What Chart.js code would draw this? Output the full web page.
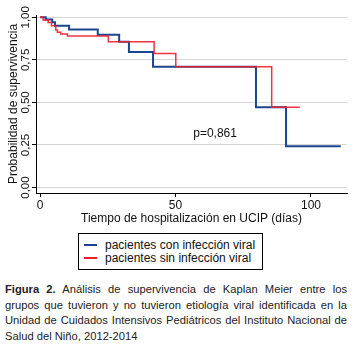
<!DOCTYPE html>
<html>
<head>
<meta charset="utf-8">
<script src="https://cdn.jsdelivr.net/npm/chart.js@4"></script>
<style>
  body { margin: 0; background: #fff; font-family: "Liberation Sans", Arial, sans-serif; }
  #wrap { position: relative; width: 356px; height: 348px; }
  #chart { position: absolute; left: 0; top: 0; }
  #legend { position: absolute; left: 78px; top: 233px; width: 183px; height: 35px;
            border: 1px solid #000; font-size: 12px; color: #111; }
  #legend div { position: absolute; left: 0; height: 13px; line-height: 13px; white-space: nowrap; }
  #legend span.sw { position: absolute; left: 5px; top: 5px; width: 13px; height: 2px; }
  #legend span.tx { position: absolute; left: 26px; top: 0; }
  #caption { position: absolute; left: 5px; top: 282px; width: 342px; font-size: 11.2px;
             line-height: 15.5px; text-align: justify; color: #222; }
</style>
</head>
<body>
<div id="wrap">
  <canvas id="chart" width="356" height="226"></canvas>
  <div id="legend"></div>
  <div id="caption"><b>Figura 2.</b> Análisis de supervivencia de Kaplan Meier entre los grupos que tuvieron y no tuvieron etiología viral identificada en la Unidad de Cuidados Intensivos Pediátricos del Instituto Nacional de Salud del Niño, 2012-2014</div>
</div>
<script>
// series
const seriesNames = ['pacientes con infección viral', 'pacientes sin infección viral'];
const seriesColors = ['#1a4590', '#ee1c2e'];

// tiempo (dias) y probabilidad de supervivencia
const viralTime = [0, 2.1, 4.5, 5.5, 10.7, 21.3, 29.2, 32.8, 41.7, 79.7, 90.8, 111];
const viralSurv = [1, 0.987, 0.971, 0.951, 0.929, 0.898, 0.857, 0.796, 0.709, 0.472, 0.243, 0.243];

const noViralTime = [0, 1.1, 3.0, 4.2, 5.8, 6.4, 7.6, 10.1, 25.2, 42.1, 50.1, 85.5, 95.9];
const noViralSurv = [1, 0.984, 0.969, 0.951, 0.925, 0.912, 0.902, 0.89, 0.857, 0.788, 0.709, 0.472, 0.472];

const xTicks = [0, 50, 100];
const yTicks = [0, 0.25, 0.5, 0.75, 1];
const pValue = 'p=0,861';

function toPoints(t, s) {
  return t.map((v, i) => ({ x: v, y: s[i] }));
}

// leyenda (caja con borde)
const legend = document.getElementById('legend');
seriesNames.forEach((name, i) => {
  const row = document.createElement('div');
  row.style.top = (5 + i * 13) + 'px';
  row.innerHTML = '<span class="sw" style="background:' + seriesColors[i] + '"></span><span class="tx">' + name + '</span>';
  legend.appendChild(row);
});

// texto p
const pLabel = {
  id: 'pLabel',
  afterDatasetsDraw(chart) {
    const ctx = chart.ctx;
    ctx.save();
    ctx.font = '12px "Liberation Sans", Arial, sans-serif';
    ctx.fillStyle = '#111';
    ctx.textAlign = 'center';
    ctx.textBaseline = 'middle';
    ctx.fillText(pValue, chart.scales.x.getPixelForValue(64.6), chart.scales.y.getPixelForValue(0.319));
    ctx.restore();
  }
};

const font = { family: '"Liberation Sans", Arial, sans-serif', size: 12 };

new Chart(document.getElementById('chart'), {
  type: 'line',
  data: {
    datasets: [
      {
        label: seriesNames[0],
        data: toPoints(viralTime, viralSurv),
        borderColor: seriesColors[0],
        borderWidth: 2,
        stepped: true,
        pointRadius: 0,
        fill: false,
        order: 1
      },
      {
        label: seriesNames[1],
        data: toPoints(noViralTime, noViralSurv),
        borderColor: 'rgba(238,28,46,0.9)',
        borderWidth: 1.5,
        stepped: true,
        pointRadius: 0,
        fill: false,
        order: 0
      }
    ]
  },
  options: {
    responsive: false,
    animation: false,
    layout: { padding: { top: 15, right: 9, left: 0, bottom: 0 } },
    plugins: { legend: { display: false }, tooltip: { enabled: false } },
    scales: {
      x: {
        type: 'linear',
        min: -1.5,
        max: 113.3,
        afterBuildTicks: s => { s.ticks = xTicks.map(v => ({ value: v })); },
        afterFit: s => { s.height = 33; },
        grid: { drawOnChartArea: false, tickLength: 4, tickColor: '#000' },
        border: { color: '#000', width: 1 },
        ticks: { font: font, color: '#111', padding: 1, maxRotation: 0 },
        title: { display: true, text: 'Tiempo de hospitalización en UCIP (días)', font: font, color: '#111', padding: { top: 0, bottom: 0 } }
      },
      y: {
        type: 'linear',
        min: -0.032,
        max: 1.0135,
        afterBuildTicks: s => { s.ticks = yTicks.map(v => ({ value: v })); },
        afterFit: s => { s.width = 36; },
        grid: { color: '#d6d6d6', tickLength: 4, tickColor: '#000' },
        border: { color: '#000', width: 1 },
        ticks: {
          font: { family: font.family, size: 11.5 },
          color: '#111',
          padding: -5,
          minRotation: 90,
          maxRotation: 90,
          crossAlign: 'center',
          callback: v => v.toFixed(2).replace('.', ',')
        },
        title: { display: true, text: 'Probabilidad de supervivencia', font: font, color: '#111', padding: { top: 6, bottom: 0 } }
      }
    }
  },
  plugins: [pLabel]
});
</script>
</body>
</html>
